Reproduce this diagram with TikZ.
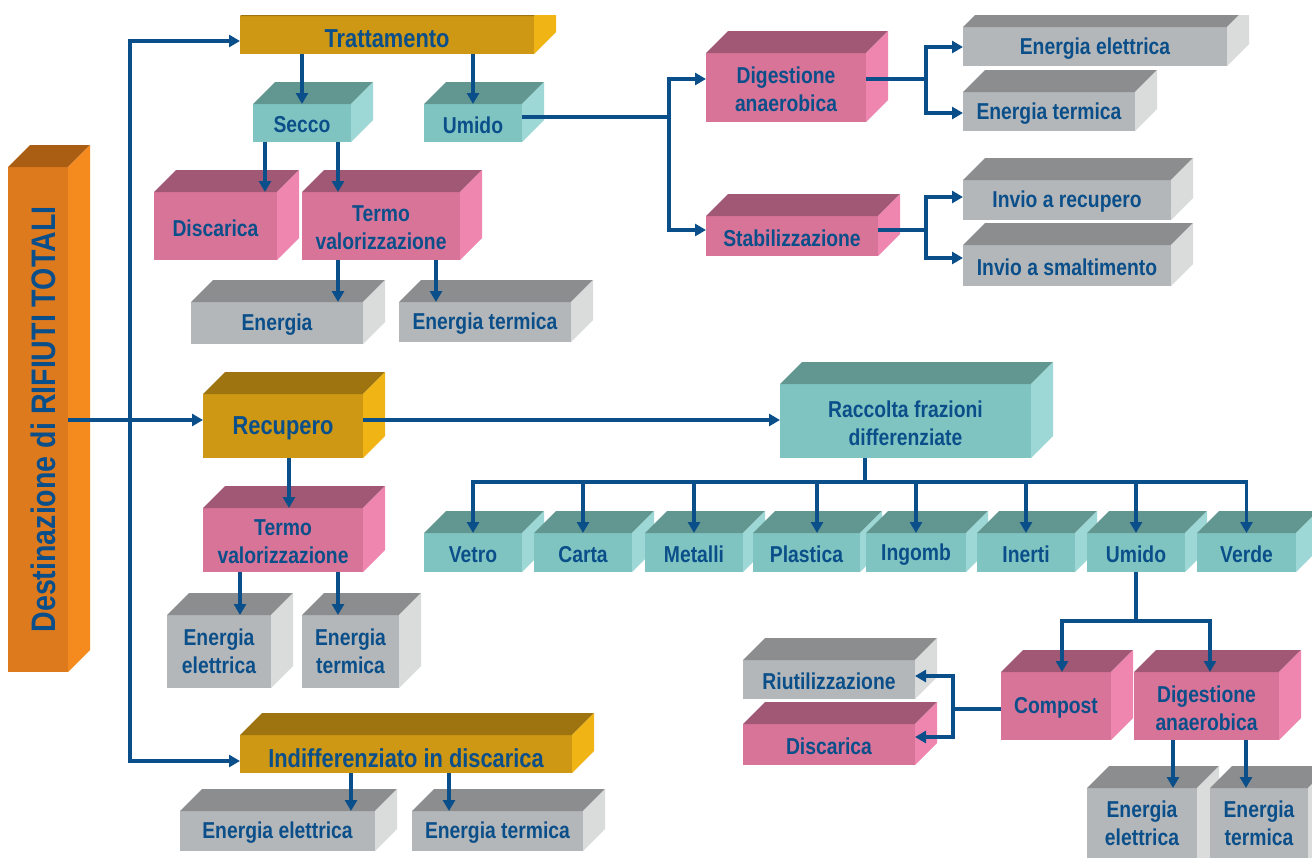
\documentclass[tikz,border=0pt]{standalone}
\usepackage{fontspec}
\setmainfont{Liberation Sans}
\newfontfamily\narrowfont{Liberation Sans}[FakeStretch=0.84]
\usetikzlibrary{arrows.meta,calc}

% palette: front / top / right faces of each block family
\definecolor{ink}{HTML}{0B4F8A}
\definecolor{goldF}{HTML}{CE9814}\definecolor{goldT}{HTML}{9E7410}\definecolor{goldR}{HTML}{F0B414}
\definecolor{tealF}{HTML}{80C4C2}\definecolor{tealT}{HTML}{629691}\definecolor{tealR}{HTML}{9DD8D6}
\definecolor{pinkF}{HTML}{D87498}\definecolor{pinkT}{HTML}{A05874}\definecolor{pinkR}{HTML}{EE86B0}
\definecolor{grayF}{HTML}{B4B7B9}\definecolor{grayT}{HTML}{8C8D8F}\definecolor{grayR}{HTML}{DADCDC}
\definecolor{orgF}{HTML}{DE7A1E}\definecolor{orgT}{HTML}{AA5E14}\definecolor{orgR}{HTML}{F58A1E}

\def\dep{22}

\tikzset{
  face/.style={rectangle,draw=none,inner sep=0pt,outer sep=0pt},
  lbl/.style={text=ink,align=center,inner sep=0pt,
    font=\narrowfont\bfseries\fontsize{23}{28}\selectfont},
  lblgold/.style={font=\narrowfont\bfseries\fontsize{26}{30}\selectfont},
  lblteal/.style={},lblpink/.style={},lblgray/.style={},lblorg/.style={},
  line/.style={draw=ink,line width=3.3pt},
  arr/.style={line,-{Triangle[length=11pt,width=12pt]}},
}

% 3D block: [text shift]{name}{family}{x1}{y1}{x2}{y2}{text}
\newcommand\blockbox[8][2]{%
  \node[face,fill=#3F,minimum width={(#6-#4)*1pt},minimum height={(#7-#5)*1pt}]
    (#2) at ({(#4+#6)/2},{(#5+#7)/2}) {};
  \fill[#3T] (#2.north west) -- ++(\dep,-\dep)
    -- ([shift={(\dep,-\dep)}]#2.north east) -- (#2.north east) -- cycle;
  \fill[#3R] (#2.north east) -- ++(\dep,-\dep)
    -- ([shift={(\dep,-\dep)}]#2.south east) -- (#2.south east) -- cycle;
  \node[lbl,lbl#3] (#2-t) at ($(#2.center)+(0,#1)$) {#8};
}

\begin{document}
\begin{tikzpicture}[x=1pt,y=-1pt]
\useasboundingbox (0,0) rectangle (1312,857);
\fill[white] (0,0) rectangle (1312,857);
\clip (0,15) rectangle (1312,857);

% ---- blocks ----
\blockbox{dest}{org}{8}{167}{68}{672}{}
\node[lbl,font=\narrowfont\bfseries\fontsize{34}{36}\selectfont,rotate=90]
  (dest-label) at ($(dest.center)+(5,0)$) {Destinazione di RIFIUTI TOTALI};

\blockbox[4]{trat}{gold}{240}{16}{534}{54}{Trattamento}
\blockbox{secco}{teal}{253}{104}{351}{142}{Secco}
\blockbox{umidoA}{teal}{424}{104}{522}{142}{Umido}
\blockbox{disc}{pink}{154}{192}{277}{260}{Discarica}
\blockbox{termoA}{pink}{302}{192}{460}{260}{Termo\\valorizzazione}
\blockbox{enA}{gray}{191}{302}{363}{344}{Energia}
\blockbox{etA}{gray}{399}{302}{571}{342}{Energia termica}

\blockbox{digA}{pink}{706}{53}{866}{122}{Digestione\\anaerobica}
\blockbox{stab}{pink}{706}{216}{878}{256}{Stabilizzazione}
\blockbox{eeB}{gray}{963}{27}{1227}{66}{Energia elettrica}
\blockbox{etB}{gray}{963}{92}{1135}{131}{Energia termica}
\blockbox{invR}{gray}{963}{180}{1171}{220}{Invio a recupero}
\blockbox{invS}{gray}{963}{245}{1171}{286}{Invio a smaltimento}

\blockbox{rec}{gold}{203}{394}{363}{458}{Recupero}
\blockbox{termoB}{pink}{203}{508}{363}{572}{Termo\\valorizzazione}
\blockbox[0]{eeC}{gray}{167}{615}{271}{688}{Energia\\elettrica}
\blockbox[0]{etC}{gray}{302}{615}{399}{688}{Energia\\termica}
\blockbox[4]{ind}{gold}{240}{735}{572}{773}{Indifferenziato in discarica}
\blockbox{eeD}{gray}{180}{811}{375}{851}{Energia elettrica}
\blockbox{etD}{gray}{412}{811}{583}{851}{Energia termica}

\blockbox{racc}{teal}{780}{384}{1031}{458}{Raccolta frazioni\\differenziate}
\blockbox{vetro}{teal}{424}{533}{522}{572}{Vetro}
\blockbox{carta}{teal}{534}{533}{632}{572}{Carta}
\blockbox{metalli}{teal}{645}{533}{743}{572}{Metalli}
\blockbox{plast}{teal}{753}{533}{860}{572}{Plastica}
\blockbox{ingomb}{teal}{866}{533}{966}{572}{Ingomb}
\blockbox{inerti}{teal}{977}{533}{1075}{572}{Inerti}
\blockbox{umidoB}{teal}{1087}{533}{1185}{572}{Umido}
\blockbox{verde}{teal}{1197}{533}{1296}{572}{Verde}

\blockbox{riut}{gray}{743}{660}{915}{699}{Riutilizzazione}
\blockbox{discB}{pink}{743}{724}{915}{765}{Discarica}
\blockbox{compost}{pink}{1001}{672}{1111}{740}{Compost}
\blockbox{digB}{pink}{1134}{672}{1279}{740}{Digestione\\anaerobica}
\blockbox[-11]{eeE}{gray}{1087}{788}{1197}{880}{Energia\\elettrica}
\blockbox[-11]{etE}{gray}{1210}{788}{1308}{880}{Energia\\termica}

% ---- main trunk ----
\coordinate (tkTop) at (130,41);
\coordinate (tkMid) at (130,420);
\coordinate (tkBot) at (130,761);
\draw[line] (dest.east |- tkMid) -- (tkMid);
\draw[arr] (tkMid) -- (tkTop) -- (tkTop -| trat.west);
\draw[arr] (tkMid) -- (tkBot) -- (tkBot -| ind.west);
\draw[arr] (tkMid) -- (tkMid -| rec.west);

% ---- Trattamento ----
\draw[arr] (trat.south -| secco.north) -- (secco.north);
\draw[arr] (trat.south -| umidoA.north) -- (umidoA.north);
\coordinate (xDisc) at (265,0);
\coordinate (xTermoA) at (338,0);
\coordinate (xEtA) at (436,0);
\draw[arr] (xDisc |- secco.south) -- (xDisc |- disc.north);
\draw[arr] (xTermoA |- secco.south) -- (xTermoA |- termoA.north);
\draw[arr] (xTermoA |- termoA.south) -- (xTermoA |- enA.north);
\draw[arr] (xEtA |- termoA.south) -- (xEtA |- etA.north);

\coordinate (ju) at (669,117);
\coordinate (juD) at (669,79);
\coordinate (juS) at (669,230);
\draw[line] (umidoA.east |- ju) -- (ju);
\draw[arr] (ju) -- (juD) -- (juD -| digA.west);
\draw[arr] (ju) -- (juS) -- (juS -| stab.west);

\coordinate (jd) at (926,79);
\coordinate (jdE) at (926,47);
\coordinate (jdT) at (926,113);
\draw[line] (digA.east |- jd) -- (jd);
\draw[arr] (jd) -- (jdE) -- (jdE -| eeB.west);
\draw[arr] (jd) -- (jdT) -- (jdT -| etB.west);

\coordinate (js) at (926,230);
\coordinate (jsR) at (926,197);
\coordinate (jsS) at (926,258);
\draw[line] (stab.east |- js) -- (js);
\draw[arr] (js) -- (jsR) -- (jsR -| invR.west);
\draw[arr] (js) -- (jsS) -- (jsS -| invS.west);

% ---- Recupero ----
\draw[arr] (rec.east |- tkMid) -- (racc.west |- tkMid);
\coordinate (xTermoB) at (289,0);
\coordinate (xEeC) at (240,0);
\coordinate (xEtC) at (338,0);
\draw[arr] (xTermoB |- rec.south) -- (xTermoB |- termoB.north);
\draw[arr] (xEeC |- termoB.south) -- (xEeC |- eeC.north);
\draw[arr] (xEtC |- termoB.south) -- (xEtC |- etC.north);

% ---- Indifferenziato ----
\coordinate (xEeD) at (351,0);
\coordinate (xEtD) at (449,0);
\draw[arr] (xEeD |- ind.south) -- (xEeD |- eeD.north);
\draw[arr] (xEtD |- ind.south) -- (xEtD |- etD.north);

% ---- Raccolta differenziata ----
\coordinate (bus) at (865,482);
\coordinate (xPl) at (817,0);
\draw[line] (racc.south -| bus) -- (bus);
\draw[arr] (bus) -| (vetro.north);
\draw[arr] (bus) -| (verde.north);
\foreach \b in {carta,metalli,ingomb,inerti,umidoB}
  \draw[arr] (\b.north |- bus) -- (\b.north);
\draw[arr] (xPl |- bus) -- (xPl |- plast.north);

\coordinate (jw) at (1136,621);
\coordinate (jwC) at (1062,621);
\coordinate (jwD) at (1210,621);
\draw[line] (umidoB.south) -- (jw);
\draw[arr] (jw) -- (jwC) -- (jwC |- compost.north);
\draw[arr] (jw) -- (jwD) -- (jwD |- digB.north);

\coordinate (jc) at (953,709);
\coordinate (jcR) at (953,676);
\coordinate (jcD) at (953,737);
\draw[line] (compost.west |- jc) -- (jc);
\draw[arr] (jc) -- (jcR) -- (jcR -| riut.east);
\draw[arr] (jc) -- (jcD) -- (jcD -| discB.east);

\coordinate (xEeE) at (1173,0);
\coordinate (xEtE) at (1246,0);
\draw[arr] (xEeE |- digB.south) -- (xEeE |- eeE.north);
\draw[arr] (xEtE |- digB.south) -- (xEtE |- etE.north);
\end{tikzpicture}
\end{document}
